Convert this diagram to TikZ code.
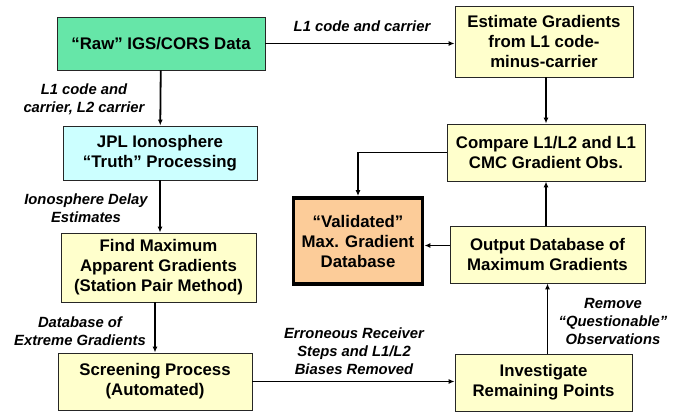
\documentclass[tikz,border=0pt]{standalone}
\usepackage{fontspec}
\setmainfont{Liberation Sans}
\usetikzlibrary{arrows.meta}

\definecolor{rawgreen}{RGB}{102,230,168}
\definecolor{jplcyan}{RGB}{204,255,255}
\definecolor{stepyellow}{RGB}{255,255,204}
\definecolor{finalorange}{RGB}{252,204,153}

\begin{document}
\begin{tikzpicture}[x=1pt, y=-1pt,
		box/.style={draw=black!85, line width=0.9pt, align=center, inner sep=2pt,
			font=\fontsize{16.8}{20}\selectfont\bfseries},
		lbl/.style={align=center, font=\fontsize{14.8}{18}\selectfont\bfseries\itshape},
		arr/.style={-{Latex[length=6pt,width=5pt]}, line width=1.8pt}]
			\useasboundingbox (0,0) rectangle (686,417);
			
			% Define nodes
			\node[box, fill=rawgreen, minimum width=208pt, minimum height=53pt] (raw) at (161,43.5) {“Raw” IGS/CORS Data};      % Input data
			\node[box, fill=jplcyan, minimum width=194pt, minimum height=54pt] (jpl) at (160,153) {JPL Ionosphere\\“Truth” Processing};
			\node[box, fill=stepyellow, minimum width=195pt, minimum height=69pt] (findmax) at (158.5,267.5) {Find Maximum\\Apparent Gradients\\(Station Pair Method)};
			\node[box, fill=stepyellow, minimum width=194pt, minimum height=57pt] (screening) at (155,381.5) {Screening Process\\(Automated)};
			\node[box, fill=stepyellow, minimum width=178pt, minimum height=71pt] (estimate) at (544,41.5) {Estimate Gradients\\from L1 code-\\minus-carrier};
			\node[box, fill=stepyellow, minimum width=198pt, minimum height=57pt] (compare) at (546,152.5) {Compare L1/L2 and L1\\CMC Gradient Obs.};
			\node[box, fill=stepyellow, minimum width=195pt, minimum height=57pt] (output) at (547.5,254.5) {Output Database of\\Maximum Gradients};
			\node[box, fill=stepyellow, minimum width=177pt, minimum height=57pt] (investigate) at (543.5,382.5) {Investigate\\Remaining Points};
			\node[box, fill=finalorange, line width=3.8pt, draw=black, minimum width=129pt, minimum height=86pt] (validated) at (358,241) {“Validated”\\Max. Gradient\\Database};   % Final result
			
			% Labels on the connectors
			\node[lbl] (lblcmc) at (362,26) {L1 code and carrier};
			\node[lbl] (lblraw) at (84,99.5) {L1 code and\\carrier, L2 carrier};
			\node[lbl] (lbldelay) at (86,208) {Ionosphere Delay\\Estimates};
			\node[lbl] (lblextreme) at (80,331) {Database of\\Extreme Gradients};
			\node[lbl] (lblerr) at (354,351) {Erroneous Receiver\\Steps and L1/L2\\Biases Removed};
			\node[lbl] (lblremove) at (613,321) {Remove\\“Questionable”\\Observations};
			
			% Connect nodes with arrows
			\draw[arr] (raw.east) -- (raw.east -| estimate.west);
			\draw[arr] (raw) -- (jpl);
			\draw[arr] (jpl) -- (jpl.south |- findmax.north);
			\draw[arr] (findmax.south -| screening.north) -- (screening);
			\draw[arr] (screening.east) -- (screening.east -| investigate.west);
			\draw[arr] (investigate.north -| output.south) -- (output);
			\draw[arr] (output.north -| compare.south) -- (compare);
			\draw[arr] (estimate.south -| compare.north) -- (compare);
			\draw[arr] (compare.west) -| (validated.north);
			\coordinate (outin) at ([yshift=9pt]output.west);
			\draw[arr] (outin) -- (outin -| validated.east);
		\end{tikzpicture}
\end{document}
